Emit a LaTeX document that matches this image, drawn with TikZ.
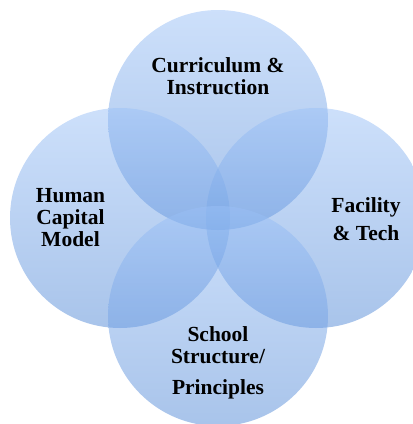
\documentclass[tikz,border=0pt]{standalone}
\usepackage{fontspec}
\setmainfont{Liberation Serif}
\definecolor{ctop}{RGB}{155,193,247}
\definecolor{cbot}{RGB}{82,137,214}
\begin{document}
\begin{tikzpicture}[x=1pt,y=1pt,
  petal/.style={circle, minimum size=220pt, inner sep=0pt, draw=none,
    top color=ctop, bottom color=cbot, fill opacity=0.5},
  lbl/.style={align=center, anchor=base, font=\bfseries\fontsize{21.5}{22}\selectfont, text=black}]
\useasboundingbox (0,0) rectangle (413,-424);
\node[petal] (top) at (218,-120) {};
\node[petal] (left) at (120,-218) {};
\node[petal] (right) at (316,-218) {};
\node[petal] (bottom) at (218,-316) {};
\node[lbl] (ltop) at (218,-94) {Curriculum \&\\Instruction};
\node[lbl] (lleft) at (70.5,-246) {Human\\Capital\\Model};
\node[lbl] (lright) at (366,-240) {Facility\\[6pt]\& Tech};
\node[lbl] (lbottom) at (218,-394) {School\\Structure/\\[9pt]Principles};
\end{tikzpicture}
\end{document}
